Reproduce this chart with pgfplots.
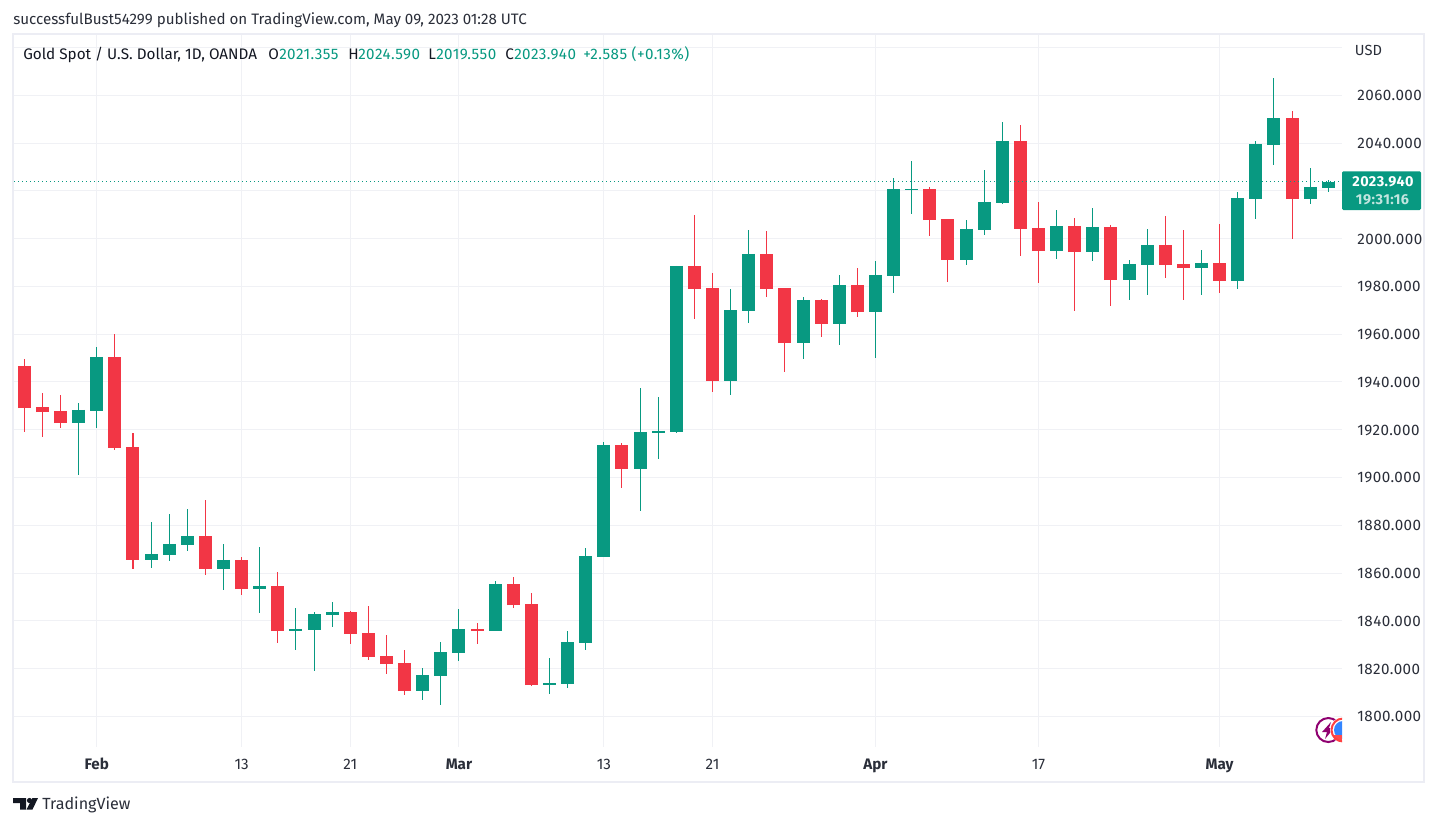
\documentclass[border=0pt]{standalone}
\usepackage{pgfplots}
\usepackage{pgfplotstable}
\usepackage{fontspec}
\pgfplotsset{compat=1.18}
\setmainfont{Fira Sans}
\newfontfamily\numf[LetterSpace=3]{Fira Sans}
\definecolor{upcol}{HTML}{089981}
\definecolor{downcol}{HTML}{F23645}
\definecolor{gridcol}{HTML}{F0F1F5}
\definecolor{framecol}{HTML}{ECEDF4}
\definecolor{txtcol}{HTML}{131722}
\definecolor{labcol}{HTML}{2A2E39}

% daily candles, Jan 2023 to May 2023
\pgfplotstableread{
idx o h l c
3 1922.8 1931.2 1901.0 1928.3
4 1927.8 1954.6 1920.7 1950.5
7 1865.5 1881.4 1862.1 1868.0
8 1867.5 1884.7 1865.0 1872.2
9 1871.7 1886.8 1869.2 1875.5
11 1861.7 1872.2 1852.9 1865.5
13 1853.3 1870.9 1843.3 1854.6
15 1835.7 1845.4 1827.8 1836.6
16 1836.1 1843.7 1819.0 1842.8
17 1842.4 1847.9 1837.4 1843.7
22 1810.6 1820.2 1806.8 1817.3
23 1816.9 1831.1 1804.7 1826.9
24 1826.5 1844.9 1823.2 1836.6
26 1835.7 1856.7 1835.7 1855.4
29 1813.1 1824.4 1809.3 1813.9
30 1813.5 1835.7 1811.9 1831.1
31 1830.7 1870.5 1827.8 1867.1
32 1866.7 1914.9 1866.7 1913.6
34 1903.6 1937.5 1886.0 1919.1
35 1918.6 1933.7 1907.8 1919.5
36 1919.0 1988.6 1918.6 1988.6
39 1940.4 1978.9 1934.5 1970.1
40 1969.7 2003.6 1964.7 1993.6
43 1956.3 1975.6 1949.6 1974.3
45 1964.3 1984.8 1955.5 1980.6
47 1969.3 1990.7 1950.0 1984.8
48 1984.4 2025.4 1977.3 2020.8
49 2020.4 2032.5 2010.3 2020.8
52 1991.1 2007.8 1989.0 2004.1
53 2003.6 2028.8 2001.5 2015.4
54 2014.9 2048.9 2014.5 2040.9
57 1994.8 2012.0 1991.5 2005.3
59 1994.4 2012.9 1990.7 2004.9
61 1982.7 1991.1 1974.3 1989.4
62 1989.0 2004.1 1976.4 1997.4
65 1987.7 1995.3 1976.4 1989.8
67 1982.3 2019.6 1978.9 2017.0
68 2016.6 2040.9 2008.2 2039.7
69 2039.2 2067.3 2030.9 2050.5
71 2016.6 2029.6 2014.5 2021.6
72 2021.355 2024.59 2019.55 2023.94
}\upcandles

\pgfplotstableread{
idx o h l c
0 1946.7 1949.6 1919.2 1929.1
1 1929.5 1935.4 1917.1 1927.4
2 1927.8 1934.5 1920.7 1922.8
5 1950.5 1960.1 1911.5 1912.4
6 1912.8 1918.6 1861.7 1865.5
10 1875.5 1890.6 1859.2 1861.7
12 1865.5 1866.7 1850.8 1853.3
14 1854.6 1860.4 1830.7 1835.7
18 1843.7 1844.1 1830.3 1834.5
19 1834.9 1846.2 1823.6 1824.8
20 1825.3 1834.1 1817.7 1821.9
21 1822.3 1827.8 1808.9 1810.6
25 1836.6 1839.1 1830.3 1835.7
27 1855.4 1858.3 1845.4 1846.6
28 1847.0 1851.6 1812.7 1813.1
33 1913.6 1914.5 1895.6 1903.6
37 1988.6 2009.9 1966.4 1978.9
38 1979.4 1985.6 1935.8 1940.4
41 1993.6 2003.2 1975.6 1978.9
42 1979.4 1979.4 1944.2 1956.3
44 1974.3 1974.7 1958.8 1964.3
46 1980.6 1987.7 1967.2 1969.3
50 2020.8 2021.6 2001.1 2007.8
51 2008.2 2008.2 1981.9 1991.1
55 2040.9 2047.6 1992.8 2004.1
56 2004.5 2015.4 1981.4 1994.8
58 2005.3 2008.7 1969.7 1994.4
60 2004.9 2005.7 1971.8 1982.7
63 1997.4 2009.5 1983.5 1989.0
64 1989.4 2003.6 1974.3 1987.7
66 1989.8 2006.2 1977.3 1982.3
70 2050.5 2053.5 1999.9 2016.6
}\downcandles

\begin{document}
\begin{tikzpicture}[x=0.75pt,y=-0.75pt]
\fill[white] (0,0) rectangle (1437,826);
\path[use as bounding box] (0,0) rectangle (1437,826);

\begin{axis}[
    at={(10.5pt,-560.025pt)},
    anchor=south west,
    scale only axis,
    width=996pt,
    height=533.8pt,
    xmin=-0.569, xmax=72.76,
    ymin=1787.27, ymax=2085.3,
    axis line style={draw=none},
    major tick length=0pt,
    clip=true,
    xtick={4,12,18,24,32,38,47,56,66},
    xticklabels={\textbf{Feb},13,21,\textbf{Mar},13,21,\textbf{Apr},17,\textbf{May}},
    xticklabel style={anchor=base,yshift=-17pt,font=\fontsize{11.4pt}{13pt}\selectfont,text=labcol},
    % 2020 sits behind the last price tag and 2080 beside USD: grid line only
    ytick={1800,1820,...,2000,2040,2060},
    extra y ticks={2020,2080},
    extra y tick labels={},
    extra tick style={grid=major},
    yticklabel pos=right,
    yticklabel style={anchor=west,xshift=8pt,yshift=-0.3pt,font=\fontsize{11.4pt}{13pt}\numf\selectfont,text=labcol,
        /pgf/number format/.cd,fixed,fixed zerofill,precision=3,1000 sep={},assume math mode=true},
    grid=major,
    grid style={gridcol,line width=0.75pt},
    axis on top=false,
]
% wicks
\addplot[draw=none,mark=none,forget plot,
    error bars/.cd,y dir=both,y explicit,error mark=none,
    error bar style={draw=upcol,line width=0.8pt}]
    table[x=idx,y=c,y error plus expr=\thisrow{h}-\thisrow{c},y error minus expr=\thisrow{c}-\thisrow{l}] {\upcandles};
\addplot[draw=none,mark=none,forget plot,
    error bars/.cd,y dir=both,y explicit,error mark=none,
    error bar style={draw=downcol,line width=0.8pt}]
    table[x=idx,y=c,y error plus expr=\thisrow{h}-\thisrow{c},y error minus expr=\thisrow{c}-\thisrow{l}] {\downcandles};
% bodies
\addplot[draw=none,mark=none,forget plot,
    error bars/.cd,y dir=minus,y explicit,error mark=none,
    error bar style={draw=upcol,line width=9.75pt}]
    table[x=idx,y=c,y error minus expr=\thisrow{c}-\thisrow{o}] {\upcandles};
\addplot[draw=none,mark=none,forget plot,
    error bars/.cd,y dir=plus,y explicit,error mark=none,
    error bar style={draw=downcol,line width=9.75pt}]
    table[x=idx,y=c,y error plus expr=\thisrow{o}-\thisrow{c}] {\downcandles};
% last price line
\addplot[upcol,line width=0.75pt,dash pattern=on 0.75pt off 2.25pt,forget plot]
    coordinates {(-0.569,2023.94) (72.76,2023.94)};
\end{axis}

% event icons at the pane's edge
\begin{scope}
\clip (1290,700) rectangle (1342,747);
\draw[draw=white,fill=white,line width=1.5pt] (1328.3,730) circle (13.5);
\draw[draw=purple!75!blue,line width=1.5pt] (1328.3,730) circle (12);
\fill[purple!75!blue] (1331,722) -- (1322,732) -- (1327,732) -- (1325,739) -- (1334,728) -- (1329,728) -- cycle;
\fill[white] (1343,730) circle (13);
\fill[blue!60!cyan!80!white] (1343,730) circle (9);
\fill[red!70!white] (1334,735) rectangle (1342,740);
\draw[draw=red!75!white,line width=1.5pt] (1343,730) circle (11.5);
\end{scope}

% frame
\draw[framecol,line width=1.5pt] (13.2,34.2) rectangle (1424.2,781.8);

% last price tag
\fill[upcol,rounded corners=1pt] (1342,171.3) rectangle (1421,210);
\node[anchor=center,inner sep=0pt,text=white,font=\fontsize{10.8pt}{11pt}\numf\bfseries\selectfont] at (1383,181.5) {2023.940};
\node[anchor=center,inner sep=0pt,text=white!75!upcol,font=\fontsize{10.8pt}{11pt}\numf\bfseries\selectfont] at (1382.5,199.5) {19:31:16};

% texts
\node[anchor=west,inner sep=0pt,text=labcol,font=\fontsize{11pt}{12pt}\selectfont] at (1354.7,50) {USD};
\node[anchor=west,inner sep=0pt,text=labcol,font=\fontsize{11.36pt}{13pt}\selectfont] at (13,20)
    {successfulBust54299 published on TradingView.com, May 09, 2023 01:28 UTC};
\tikzset{hdr/.style={anchor=base west,inner sep=0pt,text=txtcol,font=\fontsize{11.45pt}{13pt}\selectfont},
         hdv/.style={hdr,text=upcol,font=\fontsize{11.4pt}{13pt}\numf\selectfont}}
\node[hdr] at (23,59) {Gold Spot / U.S. Dollar, 1D, OANDA};
\node[hdr] at (268,59) {O};
\node[hdv] at (279,59) {2021.355};
\node[hdr] at (348,59) {H};
\node[hdv] at (358,59) {2024.590};
\node[hdr] at (428,59) {L};
\node[hdv] at (436,59) {2019.550};
\node[hdr] at (505,59) {C};
\node[hdv] at (514,59) {2023.940};
\node[hdv] at (583,59) {+2.585 (+0.13\%)};

% footer logo
\fill[txtcol] (13,798) -- (26,798) -- (26,809.5) -- (20,809.5) -- (20,803) -- (13,803) -- cycle;
\fill[txtcol] (29.5,800.5) circle (2.6);
\fill[txtcol] (32.5,798) -- (38,798) -- (32.5,809.5) -- (26.5,809.5) -- cycle;
\node[anchor=west,inner sep=0pt,text=labcol,font=\fontsize{12.1pt}{14pt}\selectfont] at (42,804.5) {TradingView};
\end{tikzpicture}
\end{document}
